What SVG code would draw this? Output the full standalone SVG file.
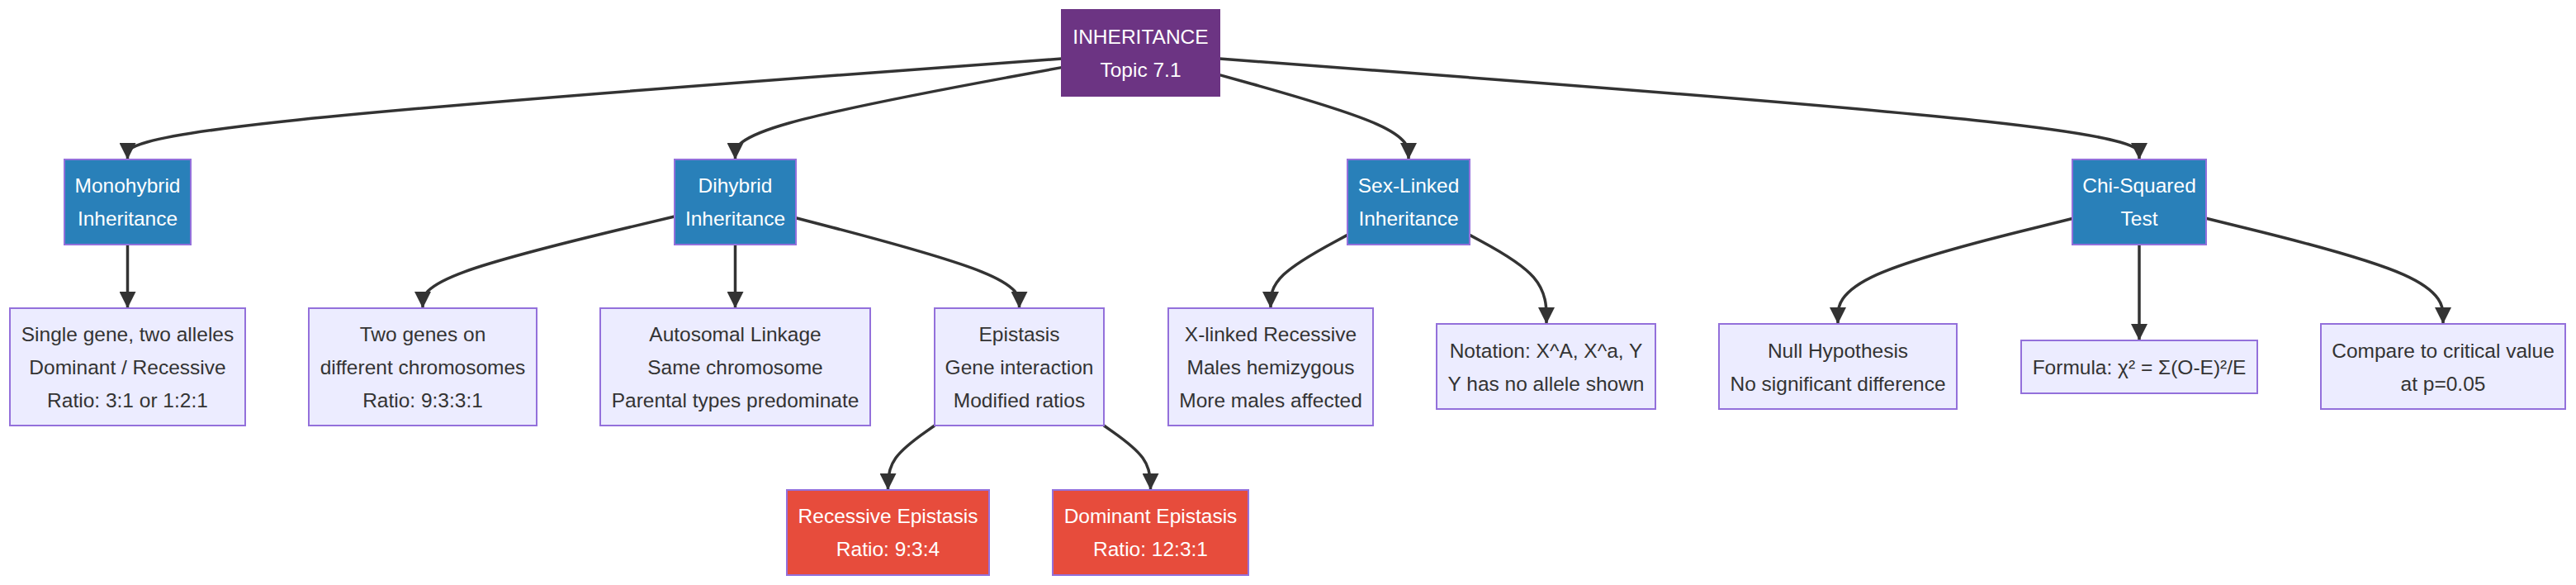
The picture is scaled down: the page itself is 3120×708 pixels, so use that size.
<svg xmlns="http://www.w3.org/2000/svg" width="3120" height="708" viewBox="0 0 3120 708">
<style>
  text { font-family: "Liberation Sans", Arial, sans-serif; font-size: 24.5px; text-anchor: middle; dominant-baseline: central; }
  .root rect { fill: #6C3483; stroke: #6C3483; stroke-width: 2; }
  .topic rect { fill: #2980B9; stroke: #9370DB; stroke-width: 2; }
  .detail rect { fill: #ECECFF; stroke: #9370DB; stroke-width: 2; }
  .alert rect { fill: #E74C3C; stroke: #9370DB; stroke-width: 2; }
  .root text, .topic text, .alert text { fill: #FFFFFF; }
  .detail text { fill: #333333; }
  .edge { fill: none; stroke: #333333; stroke-width: 3.5; marker-end: url(#arrow); }
</style>
<defs>
  <marker id="arrow" markerUnits="userSpaceOnUse" markerWidth="20" markerHeight="20" refX="20" refY="10" orient="auto">
    <path d="M0,0 L20,10 L0,20 z" fill="#333333"/>
  </marker>
</defs>
<rect width="3120" height="708" fill="#FFFFFF"/>
<g id="connectors">
  <path class="edge" d="M1286,71 L1097.4,84.9 C908.8,98.8 531.7,126.7 343.1,147 C154.5,167.3 154.5,180.2 154.5,186.6 L154.5,193"/>
  <path class="edge" d="M1286,81.6 L1220.1,93.75 C1154.2,105.9 1022.3,130.2 956.4,148.8 C890.5,167.3 890.5,180.2 890.5,186.6 L890.5,193"/>
  <path class="edge" d="M1477,90.6 L1515.2,101.25 C1553.3,111.9 1629.7,133.2 1667.8,150.3 C1706,167.3 1706,180.2 1706,186.6 L1706,193"/>
  <path class="edge" d="M1477,71.1 L1662.7,85 C1848.3,98.9 2219.7,126.7 2405.3,147 C2591,167.3 2591,180.2 2591,186.6 L2591,193"/>
  <path class="edge" d="M154.5,296 L154.5,373"/>
  <path class="edge" d="M817,262 L766.2,274.1 C715.3,286.2 613.7,310.3 562.8,328.8 C512,347.3 512,360.2 512,366.6 L512,373"/>
  <path class="edge" d="M890.5,296 L890.5,373"/>
  <path class="edge" d="M964,263.7 L1009.1,275.5 C1054.2,287.3 1144.3,310.9 1189.4,329.1 C1234.5,347.3 1234.5,360.2 1234.5,366.6 L1234.5,373"/>
  <path class="edge" d="M1632,284.4 L1616.5,292.75 C1601,301.1 1570,317.8 1554.5,332.6 C1539,347.3 1539,360.2 1539,366.6 L1539,373"/>
  <path class="edge" d="M1780,284.4 L1795.5,292.75 C1811,301.1 1842,317.8 1857.5,335.7 C1873,353.7 1873,372.8 1873,382.4 L1873,392"/>
  <path class="edge" d="M2510,264.5 L2462.7,276.2 C2415.3,287.8 2320.7,311.2 2273.3,332.4 C2226,353.7 2226,372.8 2226,382.4 L2226,392"/>
  <path class="edge" d="M2591,296 L2591,412"/>
  <path class="edge" d="M2672,264.3 L2719.8,276 C2767.7,287.7 2863.3,311.1 2911.2,332.4 C2959,353.7 2959,372.8 2959,382.4 L2959,392"/>
  <path class="edge" d="M1132,515 L1122.6,521.6 C1113.2,528.2 1094.3,541.3 1084.9,554.3 C1075.5,567.3 1075.5,580.2 1075.5,586.6 L1075.5,593"/>
  <path class="edge" d="M1337,515 L1346.4,521.6 C1355.8,528.2 1374.7,541.3 1384.1,554.3 C1393.5,567.3 1393.5,580.2 1393.5,586.6 L1393.5,593"/>
</g>
<g id="inheritance" class="root">
  <rect x="1286" y="12" width="191" height="104"/>
  <text x="1381.5" y="44">INHERITANCE</text>
  <text x="1381.5" y="84">Topic 7.1</text>
</g>
<g id="monohybrid" class="topic">
  <rect x="78" y="193" width="153" height="103"/>
  <text x="154.5" y="224.5">Monohybrid</text>
  <text x="154.5" y="264.5">Inheritance</text>
</g>
<g id="dihybrid" class="topic">
  <rect x="817" y="193" width="147" height="103"/>
  <text x="890.5" y="224.5">Dihybrid</text>
  <text x="890.5" y="264.5">Inheritance</text>
</g>
<g id="sexlinked" class="topic">
  <rect x="1632" y="193" width="148" height="103"/>
  <text x="1706" y="224.5">Sex-Linked</text>
  <text x="1706" y="264.5">Inheritance</text>
</g>
<g id="chisquared" class="topic">
  <rect x="2510" y="193" width="162" height="103"/>
  <text x="2591" y="224.5">Chi-Squared</text>
  <text x="2591" y="264.5">Test</text>
</g>
<g id="mono-detail" class="detail">
  <rect x="12" y="373" width="285" height="142"/>
  <text x="154.5" y="404.5">Single gene, two alleles</text>
  <text x="154.5" y="444.5">Dominant / Recessive</text>
  <text x="154.5" y="484.5">Ratio: 3:1 or 1:2:1</text>
</g>
<g id="two-genes" class="detail">
  <rect x="374" y="373" width="276" height="142"/>
  <text x="512" y="404.5">Two genes on</text>
  <text x="512" y="444.5">different chromosomes</text>
  <text x="512" y="484.5">Ratio: 9:3:3:1</text>
</g>
<g id="autosomal" class="detail">
  <rect x="727" y="373" width="327" height="142"/>
  <text x="890.5" y="404.5">Autosomal Linkage</text>
  <text x="890.5" y="444.5">Same chromosome</text>
  <text x="890.5" y="484.5">Parental types predominate</text>
</g>
<g id="epistasis" class="detail">
  <rect x="1132" y="373" width="205" height="142"/>
  <text x="1234.5" y="404.5">Epistasis</text>
  <text x="1234.5" y="444.5">Gene interaction</text>
  <text x="1234.5" y="484.5">Modified ratios</text>
</g>
<g id="xlinked" class="detail">
  <rect x="1415" y="373" width="248" height="142"/>
  <text x="1539" y="404.5">X-linked Recessive</text>
  <text x="1539" y="444.5">Males hemizygous</text>
  <text x="1539" y="484.5">More males affected</text>
</g>
<g id="notation" class="detail">
  <rect x="1740" y="392" width="265" height="103"/>
  <text x="1872.5" y="424">Notation: X^A, X^a, Y</text>
  <text x="1872.5" y="464">Y has no allele shown</text>
</g>
<g id="null-hypothesis" class="detail">
  <rect x="2082" y="392" width="288" height="103"/>
  <text x="2226" y="424">Null Hypothesis</text>
  <text x="2226" y="464">No significant difference</text>
</g>
<g id="formula" class="detail">
  <rect x="2448" y="412" width="286" height="64"/>
  <text x="2591" y="444">Formula: χ² = Σ(O-E)²/E</text>
</g>
<g id="compare" class="detail">
  <rect x="2811" y="392" width="296" height="103"/>
  <text x="2959" y="424">Compare to critical value</text>
  <text x="2959" y="464">at p=0.05</text>
</g>
<g id="recessive-epistasis" class="alert">
  <rect x="953" y="593" width="245" height="103"/>
  <text x="1075.5" y="624.5">Recessive Epistasis</text>
  <text x="1075.5" y="664.5">Ratio: 9:3:4</text>
</g>
<g id="dominant-epistasis" class="alert">
  <rect x="1275" y="593" width="237" height="103"/>
  <text x="1393.5" y="624.5">Dominant Epistasis</text>
  <text x="1393.5" y="664.5">Ratio: 12:3:1</text>
</g>
</svg>
